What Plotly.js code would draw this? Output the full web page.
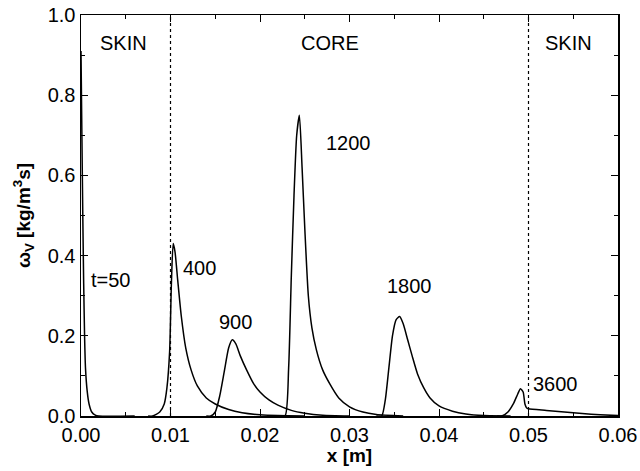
<!DOCTYPE html>
<html>
<head>
<meta charset="utf-8">
<script src="https://cdn.plot.ly/plotly-3.0.1.min.js"></script>
<style>html,body{margin:0;padding:0;background:#fff;}#chart{width:640px;height:471px;}</style>
</head>
<body>
<div id="chart"></div>
<script>
// Time labels of each profile
const times = ['t=50', '400', '900', '1200', '1800', '3600'];

// Profile t=50
const x50 = [0, 0.0001, 0.0002, 0.0003, 0.0004, 0.0005, 0.0007, 0.0009, 0.0012, 0.0016, 0.002, 0.006];
const y50 = [0.91, 0.70, 0.50, 0.33, 0.20, 0.12, 0.06, 0.03, 0.01, 0.002, 0, 0];
// Profile t=400
const x400 = [0.0075, 0.0080, 0.0088, 0.0093, 0.0096, 0.0099, 0.0101, 0.0103, 0.0105, 0.0108, 0.0112, 0.0117, 0.0123, 0.0130, 0.0140, 0.0150, 0.0165, 0.0180, 0.0200, 0.0220, 0.0250];
const y400 = [0, 0, 0.01, 0.03, 0.07, 0.16, 0.33, 0.43, 0.41, 0.34, 0.25, 0.17, 0.115, 0.075, 0.045, 0.03, 0.016, 0.008, 0.003, 0.001, 0];
// Profile t=900
const x900 = [0.0140, 0.0145, 0.0150, 0.0155, 0.0160, 0.0165, 0.0169, 0.0173, 0.0178, 0.0185, 0.0193, 0.0200, 0.0210, 0.0220, 0.0235, 0.0250, 0.0270, 0.0300];
const y900 = [0, 0, 0.01, 0.05, 0.11, 0.17, 0.19, 0.18, 0.15, 0.115, 0.08, 0.06, 0.04, 0.027, 0.014, 0.007, 0.002, 0];
// Profile t=1200
const x1200 = [0.0220, 0.0228, 0.0232, 0.0235, 0.0238, 0.0241, 0.0244, 0.0247, 0.0250, 0.0254, 0.0258, 0.0263, 0.0270, 0.0278, 0.0288, 0.0300, 0.0315, 0.0330, 0.0360];
const y1200 = [0, 0, 0.12, 0.35, 0.55, 0.70, 0.75, 0.62, 0.47, 0.30, 0.22, 0.165, 0.115, 0.08, 0.045, 0.023, 0.01, 0.004, 0];
// Profile t=1800
const x1800 = [0.0330, 0.0336, 0.0340, 0.0344, 0.0348, 0.0352, 0.0356, 0.0360, 0.0365, 0.0370, 0.0376, 0.0383, 0.0390, 0.0400, 0.0415, 0.0430, 0.0450, 0.0480];
const y1800 = [0, 0, 0.04, 0.12, 0.20, 0.24, 0.248, 0.23, 0.19, 0.15, 0.105, 0.07, 0.045, 0.025, 0.012, 0.005, 0.001, 0];
// Profile t=3600
const x3600 = [0.0465, 0.0470, 0.0477, 0.0483, 0.0488, 0.0491, 0.0494, 0.0496, 0.0498, 0.0500, 0.0520, 0.0540, 0.0560, 0.0580, 0.0600];
const y3600 = [0, 0, 0.01, 0.03, 0.055, 0.068, 0.06, 0.03, 0.02, 0.018, 0.014, 0.01, 0.006, 0.003, 0.001];

// Label anchor points (data coords)
const labelX = [0.00089, 0.01324, 0.01726, 0.02994, 0.03665, 0.05302];
const labelY = [0.339, 0.369, 0.235, 0.681, 0.324, 0.080];

// Region boundaries and region labels
const boundaries = [0.01, 0.05];
const regions = ['SKIN', 'CORE', 'SKIN'];
const regionX = [0.00477, 0.02782, 0.05449];
const regionY = [0.931, 0.931, 0.931];

const xs = [x50, x400, x900, x1200, x1800, x3600];
const ys = [y50, y400, y900, y1200, y1800, y3600];

const traces = [];
boundaries.forEach(b => {
  traces.push({x: [b, b], y: [0, 1], mode: 'lines', line: {color: '#000', width: 1.2, dash: 'dot'}, hoverinfo: 'skip', showlegend: false});
});
xs.forEach((x, i) => {
  traces.push({x: x, y: ys[i], mode: 'lines', name: times[i], line: {color: '#000', width: 1.5, shape: 'spline', smoothing: 0.6}, showlegend: false});
});

const FAM = 'Liberation Sans, Arial, sans-serif';
const font = {family: FAM, size: 20, color: '#000'};
const annotations = [];
times.forEach((t, i) => {
  annotations.push({x: labelX[i], y: labelY[i], text: t, showarrow: false, xanchor: i === 0 ? 'left' : 'center', yanchor: 'middle', font: font});
});
regions.forEach((r, i) => {
  annotations.push({x: regionX[i], y: regionY[i], text: r, showarrow: false, xanchor: 'center', yanchor: 'middle', font: font});
});

const axisCommon = {
  showgrid: false, zeroline: false, showline: true, linecolor: '#000', linewidth: 1.5,
  mirror: 'allticks', ticks: 'inside', ticklen: 7, tickwidth: 1, tickcolor: '#000',
  tickfont: font
};

const layout = {
  width: 640, height: 471,
  margin: {l: 81, r: 22, t: 15, b: 55},
  paper_bgcolor: '#fff', plot_bgcolor: '#fff',
  xaxis: Object.assign({}, axisCommon, {
    range: [0, 0.06], dtick: 0.01, tick0: 0, tickformat: '.2f',
    minor: {dtick: 0.005, ticks: 'inside', ticklen: 4, tickcolor: '#000'},
    title: {text: '<b>x [m]</b>', font: {family: FAM, size: 19, color: '#000'}, standoff: 2}
  }),
  yaxis: Object.assign({}, axisCommon, {
    range: [0, 1], dtick: 0.2, tick0: 0, tickformat: '.1f',
    minor: {dtick: 0.1, ticks: 'inside', ticklen: 4, tickcolor: '#000'},
    title: {text: '<b>ω<sub>V</sub> [kg/m<sup>3</sup>s]</b>', font: {family: FAM, size: 19, color: '#000'}, standoff: 12}
  }),
  annotations: annotations
};

Plotly.newPlot('chart', traces, layout, {displayModeBar: false, staticPlot: true});
</script>
</body>
</html>
